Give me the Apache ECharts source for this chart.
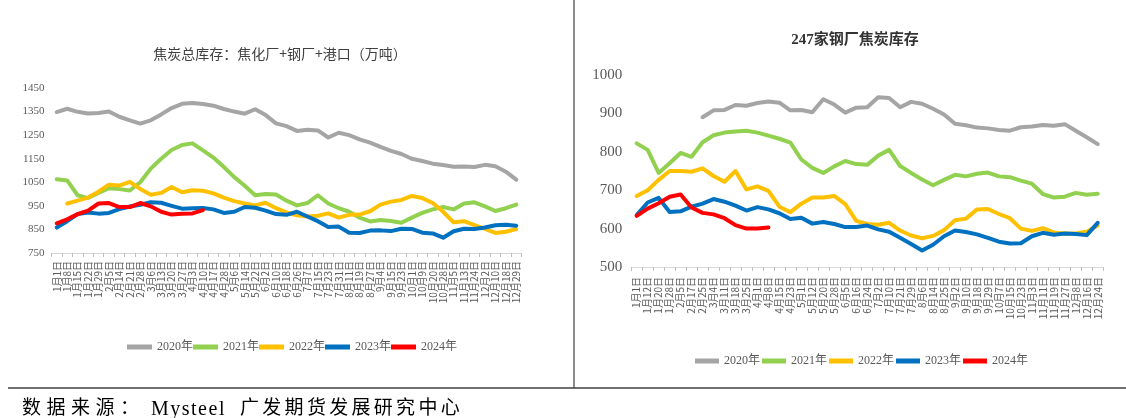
<!DOCTYPE html>
<html>
<head>
<meta charset="utf-8">
<script src="https://cdn.jsdelivr.net/npm/echarts@6/dist/echarts.min.js"></script>
<style>
html,body{margin:0;padding:0;background:#fff;}
#wrap{position:relative;width:1126px;height:418px;overflow:hidden;}
#chart{position:absolute;left:0;top:0;width:1126px;height:418px;}
.src{position:absolute;top:397px;font-family:'Liberation Serif','Noto Sans CJK SC',serif;font-size:19px;color:#000;line-height:22px;white-space:nowrap;}
</style>
</head>
<body>
<div id="wrap">
<div id="chart"></div>
<div id="src"><span class="src" style="left:22px;letter-spacing:5.5px;">数据来源：</span><span class="src" style="left:151px;font-size:20px;letter-spacing:1.5px;">Mysteel</span><span class="src" style="left:240px;letter-spacing:3.3px;">广发期货发展研究中心</span></div>
</div>
<script>
// ---- Left chart: 焦炭总库存 ----
var catsLeft = ['1月1日','1月8日','1月15日','1月22日','1月29日','2月5日','2月14日','2月21日','2月28日','3月6日','3月13日','3月20日','3月27日','4月3日','4月10日','4月17日','4月28日','5月6日','5月14日','5月22日','6月2日','6月10日','6月18日','6月26日','7月7日','7月15日','7月23日','7月31日','8月11日','8月19日','8月27日','9月4日','9月15日','9月23日','10月1日','10月9日','10月20日','10月28日','11月5日','11月13日','11月24日','12月2日','12月10日','12月18日','12月29日'];
var total2020 = [1348,1362,1349,1342,1344,1350,1328,1313,1299,1313,1338,1365,1383,1386,1382,1375,1361,1350,1341,1360,1335,1300,1288,1268,1273,1270,1240,1260,1250,1232,1218,1200,1183,1170,1150,1140,1129,1123,1116,1117,1115,1124,1118,1095,1061];
var total2021 = [1063,1058,995,983,1005,1025,1021,1015,1050,1108,1150,1187,1208,1215,1185,1155,1115,1072,1035,995,1000,998,972,952,962,995,960,940,925,900,884,890,886,878,900,920,935,945,935,960,965,948,928,940,955];
var total2022 = [null,960,972,985,1010,1040,1036,1052,1022,997,1005,1030,1008,1016,1014,1003,985,970,960,952,963,940,922,910,905,908,918,900,912,913,927,955,968,975,992,983,962,925,880,885,868,852,835,840,852];
var total2023 = [858,885,915,922,917,920,936,947,955,965,963,950,938,940,941,935,920,925,945,942,930,915,912,925,905,885,860,862,836,835,845,846,843,853,852,836,833,815,842,853,852,858,868,870,866];
var total2024 = [876,893,915,930,960,962,945,945,962,948,925,913,917,918,932];
var leftTicks = [750,850,950,1050,1150,1250,1350,1450];

// ---- Right chart: 247家钢厂焦炭库存 ----
var catsRight = ['1月1日','1月12日','1月20日','1月28日','2月5日','2月17日','2月25日','3月4日','3月11日','3月18日','3月25日','4月1日','4月8日','4月15日','4月23日','5月1日','5月12日','5月20日','5月28日','6月5日','6月16日','6月24日','7月2日','7月10日','7月21日','7月29日','8月6日','8月14日','8月25日','9月2日','9月10日','9月18日','9月29日','10月7日','10月15日','10月23日','11月3日','11月11日','11月19日','11月27日','12月8日','12月16日','12月24日'];
var mill2020 = [null,null,null,null,null,null,890,908,909,922,920,927,931,928,908,909,903,937,923,902,915,916,942,940,916,930,925,912,897,873,869,863,861,857,855,864,866,870,868,872,855,838,820];
var mill2021 = [822,805,745,770,797,787,825,843,850,853,855,850,842,834,824,780,758,745,762,776,768,766,790,805,763,745,728,713,727,740,736,743,746,736,734,725,717,690,681,683,693,688,691];
var mill2022 = [685,700,727,750,750,748,757,737,722,750,702,710,698,657,643,665,681,681,685,664,620,612,610,615,595,582,575,581,596,622,626,650,651,638,627,600,594,601,590,587,587,592,608];
var mill2023 = [635,668,680,643,645,657,665,677,670,660,647,656,650,640,625,628,613,617,612,604,604,608,598,592,576,560,543,558,580,595,591,585,576,566,561,562,580,589,584,587,586,583,615];
var mill2024 = [633,652,666,683,689,655,641,637,627,609,600,600,603];

var seriesNames = ['2020年','2021年','2022年','2023年','2024年'];
var colors = ['#A5A5A5','#92D050','#FFC000','#0070C0','#FF0000'];

var serif = "'Liberation Serif','Noto Sans CJK SC',serif";
var cjk = "'Noto Sans CJK SC',sans-serif";

function mk(name, data, idx, color, w) {
  return {
    name: name, type: 'line', data: data, xAxisIndex: idx, yAxisIndex: idx,
    symbol: 'none', smooth: false, connectNulls: false,
    lineStyle: {color: color, width: w, cap: 'round', join: 'round'},
    itemStyle: {color: color},
    emphasis: {disabled: true}, animation: false
  };
}

var leftData = [total2020, total2021, total2022, total2023, total2024];
var rightData = [mill2020, mill2021, mill2022, mill2023, mill2024];
var series = [];
for (var i = 0; i < 5; i++) series.push(mk(seriesNames[i], leftData[i], 0, colors[i], 4));
for (var j = 0; j < 5; j++) series.push(mk(seriesNames[j], rightData[j], 1, colors[j], 4));

function xAxis(cats, gi, margin) {
  return {
    type: 'category', data: cats, gridIndex: gi, boundaryGap: true,
    axisLine: {show: true, lineStyle: {color: '#D9D9D9', width: 1}},
    axisTick: {show: true, alignWithLabel: false, interval: 0, length: 4, lineStyle: {color: '#BFBFBF'}},
    axisLabel: {interval: 0, rotate: 90, fontSize: 10, color: '#595959', fontFamily: cjk, margin: margin},
    splitLine: {show: false}
  };
}

var option = {
  animation: false,
  backgroundColor: '#fff',
  color: colors,
  title: [
    {text: '焦炭总库存：焦化厂+钢厂+港口（万吨）', left: 275, top: 42, textAlign: 'center',
     textStyle: {fontFamily: cjk, fontSize: 14, fontWeight: 'normal', color: '#404040'}},
    {text: '247家钢厂焦炭库存', left: 850, top: 28, textAlign: 'center',
     textStyle: {fontFamily: serif, fontSize: 15, fontWeight: 'bold', color: '#333333'}}
  ],
  legend: [
    {data: seriesNames, left: 122, top: 336, icon: 'rect', itemWidth: 25, itemHeight: 5, itemGap: 0,
     selectedMode: false, textStyle: {fontFamily: serif, fontSize: 12, color: '#595959'}},
    {data: seriesNames, left: 690, top: 350, icon: 'rect', itemWidth: 24, itemHeight: 5, itemGap: 2,
     selectedMode: false, textStyle: {fontFamily: serif, fontSize: 12, color: '#595959'}}
  ],
  grid: [
    {left: 51.5, top: 88, width: 470, height: 165, containLabel: false},
    {left: 631.2, top: 75, width: 472, height: 192, containLabel: false}
  ],
  xAxis: [xAxis(catsLeft, 0, 8), xAxis(catsRight, 1, 10)],
  yAxis: [
    {type: 'value', gridIndex: 0, min: 750, max: 1450, interval: 50,
     axisLine: {show: false}, axisTick: {show: false}, splitLine: {show: false},
     axisLabel: {fontFamily: serif, fontSize: 11, color: '#595959', margin: 7,
       formatter: function (v) { return leftTicks.indexOf(v) >= 0 ? String(v) : ''; }}},
    {type: 'value', gridIndex: 1, min: 500, max: 1000, interval: 100,
     axisLine: {show: false}, axisTick: {show: false}, splitLine: {show: false},
     axisLabel: {fontFamily: serif, fontSize: 15, color: '#595959', margin: 9,
       formatter: function (v) { return String(v); }}}
  ],
  graphic: [
    {type: 'line', shape: {x1: 574, y1: 0, x2: 574, y2: 388}, style: {stroke: '#404040', lineWidth: 1.2}, silent: true},
    {type: 'line', shape: {x1: 8, y1: 388, x2: 1126, y2: 388}, style: {stroke: '#404040', lineWidth: 1.5}, silent: true}
  ],
  series: series
};

var chart = echarts.init(document.getElementById('chart'), null, {renderer: 'canvas', width: 1126, height: 418});
chart.setOption(option);
</script>
</body>
</html>
